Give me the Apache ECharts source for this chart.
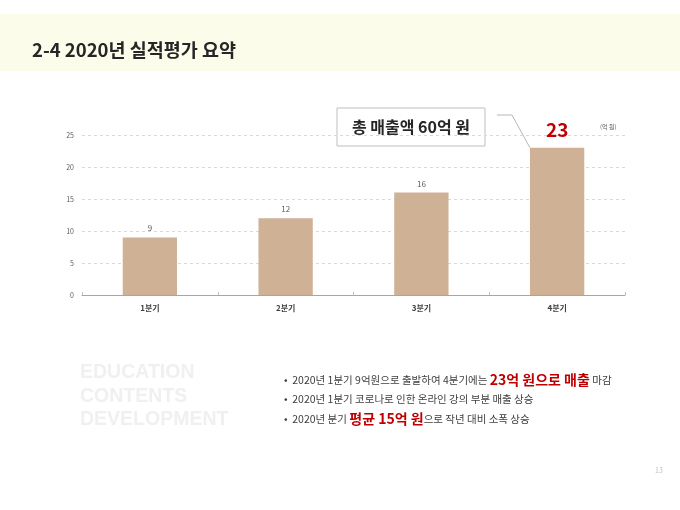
<!doctype html>
<html lang="ko">

<head>
    <meta charset="utf-8" />
    <title>2-4 2020년 실적평가 요약</title>
    <script type="text/javascript" src="https://cdn.jsdelivr.net/npm/echarts@6/dist/echarts.min.js"></script>
    <style>
        html, body { margin: 0; padding: 0; background: #fff; }
        #chart { width: 680px; height: 510px; }
    </style>
</head>

<body>
    <div id="chart"></div>
</body>

<script type="text/javascript">
    // 분기별 매출 (억 원)
    let quarters = ["1분기", "2분기", "3분기", "4분기"];
    let sales = [9, 12, 16, 23];
    let yTicks = [0, 5, 10, 15, 20, 25];

    let font = "'Noto Sans CJK KR', 'Noto Sans', sans-serif";
    let barColor = "#cfb195";
    let red = "#c00000";

    let chartDom = document.getElementById("chart");
    let myChart = echarts.init(chartDom);

    let last = sales.length - 1;
    let barData = sales.map(function (v, i) {
        if (i != last) return v;
        // 마지막 분기는 크게 강조
        return {
            value: v,
            label: {
                fontSize: 19,
                fontWeight: "bold",
                color: red,
                distance: 9
            }
        };
    });

    let redRich = { r: { fontSize: 14, fontWeight: "bold", fill: red, color: red, fontFamily: font } };

    let option = {
        animation: false,
        textStyle: { fontFamily: font },
        grid: {
            left: 82,
            right: 55,
            top: 135,
            bottom: 215
        },
        xAxis: {
            type: "category",
            data: quarters,
            axisLine: { lineStyle: { color: "#a6a6a6" } },
            axisTick: { show: true, inside: true, length: 3, lineStyle: { color: "#bfbfbf" } },
            axisLabel: {
                fontSize: 8,
                fontWeight: "bold",
                color: "#404040",
                margin: 9
            }
        },
        yAxis: {
            type: "value",
            min: yTicks[0],
            max: yTicks[yTicks.length - 1],
            interval: yTicks[1] - yTicks[0],
            axisLine: { show: false },
            axisTick: { show: false },
            axisLabel: { fontSize: 7, color: "#595959", margin: 8 },
            splitLine: { lineStyle: { color: "#d9d9d9", type: [3, 3] } }
        },
        series: [{
            type: "bar",
            data: barData,
            barWidth: "40%",
            itemStyle: { color: barColor },
            label: {
                show: true,
                position: "top",
                fontSize: 8,
                color: "#595959",
                distance: 5
            }
        }],
        graphic: [
            // 상단 제목 띠
            {
                id: "band",
                type: "rect",
                z: -10,
                shape: { x: 0, y: 14, width: 680, height: 57 },
                style: { fill: "#fbfcea", stroke: null },
                silent: true
            },
            {
                id: "title",
                type: "text",
                x: 32, y: 50,
                style: {
                    text: "2-4 2020년 실적평가 요약",
                    font: "bold 18.5px " + font,
                    fill: "#262626",
                    textVerticalAlign: "middle"
                }
            },
            // 단위
            {
                id: "unit",
                type: "text",
                x: 600, y: 127,
                style: {
                    text: "(억 원)",
                    font: "6px " + font,
                    fill: "#595959",
                    textVerticalAlign: "middle"
                }
            },
            // 총 매출액 박스
            {
                id: "box",
                type: "rect",
                shape: { x: 337, y: 108, width: 148, height: 38 },
                style: { fill: "#ffffff", stroke: "#bfbfbf", lineWidth: 1 }
            },
            {
                id: "boxText",
                type: "text",
                x: 411, y: 127,
                style: {
                    text: "총 매출액 60억 원",
                    font: "bold 16px " + font,
                    fill: "#262626",
                    textAlign: "center",
                    textVerticalAlign: "middle"
                }
            },
            // 배경 워터마크
            {
                id: "watermark",
                type: "text",
                x: 80, y: 361,
                style: {
                    text: "EDUCATION\nCONTENTS\nDEVELOPMENT",
                    font: "bold 19.5px 'Liberation Sans', Arial, sans-serif",
                    lineHeight: 23.5,
                    fill: "#f0f0f0",
                    textVerticalAlign: "top"
                }
            },
            // 요약 문구
            {
                id: "note1",
                type: "text",
                x: 284, y: 380,
                style: {
                    text: "•  2020년 1분기 9억원으로 출발하여 4분기에는 {r|23억 원으로 매출} 마감",
                    font: "10.5px " + font,
                    fill: "#404040",
                    textVerticalAlign: "middle",
                    rich: redRich
                }
            },
            {
                id: "note2",
                type: "text",
                x: 284, y: 399,
                style: {
                    text: "•  2020년 1분기 코로나로 인한 온라인 강의 부분 매출 상승",
                    font: "10.5px " + font,
                    fill: "#404040",
                    textVerticalAlign: "middle"
                }
            },
            {
                id: "note3",
                type: "text",
                x: 284, y: 419,
                style: {
                    text: "•  2020년 분기 {r|평균 15억 원}으로 작년 대비 소폭 상승",
                    font: "10.5px " + font,
                    fill: "#404040",
                    textVerticalAlign: "middle",
                    rich: redRich
                }
            },
            // 페이지 번호
            {
                id: "page",
                type: "text",
                x: 659, y: 470,
                style: {
                    text: "13",
                    font: "7px " + font,
                    fill: "#bfbfbf",
                    textAlign: "center",
                    textVerticalAlign: "middle"
                }
            }
        ]
    };

    myChart.setOption(option);

    // 박스에서 4분기 막대 상단으로 이어지는 지시선
    let top4 = myChart.convertToPixel({ seriesIndex: 0 }, [last, sales[last]]);
    let bw = myChart.getModel().getSeriesByIndex(0).getData().getLayout("bandWidth") * 0.4;
    let tipX = top4[0] - bw / 2;
    myChart.setOption({
        graphic: [{
            id: "pointer",
            type: "polyline",
            shape: { points: [[497, 115], [512, 115], [tipX, top4[1]]] },
            style: { stroke: "#a6a6a6", lineWidth: 0.8, fill: null }
        }]
    });
</script>

</html>
